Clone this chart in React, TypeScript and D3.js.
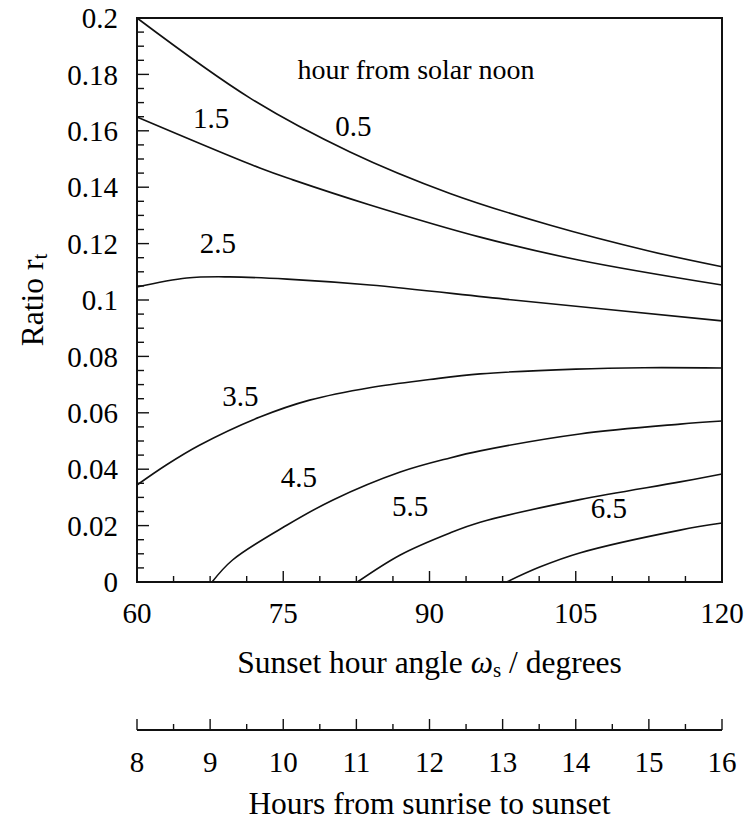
import React from 'react';
import * as d3 from 'd3';

// hour from solar noon -> curve points (sunset hour angle in degrees, ratio r_t)
const curveLabels = ['0.5', '1.5', '2.5', '3.5', '4.5', '5.5', '6.5'];

const omega05 = [60, 71.6, 81.85, 92.1, 102.4, 112.6, 120];
const ratio05 = [0.2, 0.1716, 0.1525, 0.1378, 0.1265, 0.1173, 0.1118];

const omega15 = [60, 72.6, 76, 83.9, 95.2, 105.4, 120];
const ratio15 = [0.1649, 0.1468, 0.1426, 0.1337, 0.1223, 0.1141, 0.1053];

const omega25 = [60, 65.1, 69.5, 75.4, 83.9, 98.6, 120];
const ratio25 = [0.1046, 0.1078, 0.1082, 0.1074, 0.1053, 0.1, 0.0926];

const omega35 = [60, 63, 66.4, 72.6, 77.7, 84, 90, 95.2, 105, 112, 120];
const ratio35 = [0.0344, 0.0415, 0.0485, 0.0585, 0.0645, 0.069, 0.0718, 0.0738, 0.0755, 0.076, 0.0759];

const omega45 = [67.7, 69.8, 75.4, 80.1, 87, 92.1, 95.2, 105.4, 115.7, 120];
const ratio45 = [0, 0.0078, 0.0202, 0.0291, 0.039, 0.044, 0.0465, 0.0525, 0.056, 0.0571];

const omega55 = [82.6, 87, 92.1, 95.2, 105.4, 115.7, 120];
const ratio55 = [0, 0.0096, 0.0174, 0.0212, 0.0292, 0.0355, 0.0383];

const omega65 = [97.9, 101.3, 105.4, 115.7, 120];
const ratio65 = [0, 0.0053, 0.0103, 0.0184, 0.0209];

const curveOmegas = [omega05, omega15, omega25, omega35, omega45, omega55, omega65];
const curveRatios = [ratio05, ratio15, ratio25, ratio35, ratio45, ratio55, ratio65];

// label anchor in data units (omega, ratio)
const labelOmega = [82.2, 67.6, 68.3, 70.6, 76.6, 88, 108.4];
const labelRatio = [0.158, 0.161, 0.1165, 0.0625, 0.0337, 0.0235, 0.0227];

const yTicks = [0, 0.02, 0.04, 0.06, 0.08, 0.1, 0.12, 0.14, 0.16, 0.18, 0.2];
const yTickLabels = ['0', '0.02', '0.04', '0.06', '0.08', '0.1', '0.12', '0.14', '0.16', '0.18', '0.2'];
const xTicks = [60, 75, 90, 105, 120];
const hourTicks = [8, 9, 10, 11, 12, 13, 14, 15, 16];

const FONT = "'Liberation Serif', 'Times New Roman', Times, 'DejaVu Serif', serif";

export default function App() {
  const width = 754;
  const height = 821;
  const left = 137, right = 722, top = 18, bottom = 582;

  const x = d3.scaleLinear().domain([60, 120]).range([left, right]);
  const y = d3.scaleLinear().domain([0, 0.2]).range([bottom, top]);
  const xh = d3.scaleLinear().domain([8, 16]).range([left, right]);

  const line = d3.line<[number, number]>()
    .x(d => x(d[0]))
    .y(d => y(d[1]))
    .curve(d3.curveCatmullRom.alpha(0.5));

  const yMinor = d3.range(0, 0.2001, 0.005);
  const xMinor = d3.range(60, 120.001, 3.75);
  const hMinor = d3.range(8, 16.001, 0.5);
  const hAxisY = 730;

  return (
    <svg width={width} height={height}
      style={{ position: 'absolute', left: 0, top: 0, background: '#fff', fontFamily: FONT }}>
      <rect x={0} y={0} width={width} height={height} fill="#fff" />

      {/* curves */}
      {curveOmegas.map((om, i) => (
        <path key={i} d={line(om.map((o, j) => [o, curveRatios[i][j]]) as [number, number][]) || ''}
          fill="none" stroke="#111" strokeWidth={1.6} />
      ))}

      {/* frame */}
      <rect x={left} y={top} width={right - left} height={bottom - top} fill="none" stroke="#111" strokeWidth={2} />

      {/* y ticks */}
      {yMinor.map((v, i) => {
        const major = i % 4 === 0;
        return <line key={'ym' + i} x1={left} x2={left + (major ? 12 : 7)} y1={y(v)} y2={y(v)} stroke="#111" strokeWidth={1.4} />;
      })}
      {yTicks.map((v, i) => (
        <text key={'yl' + i} x={118} y={y(v)} dy="0.35em" textAnchor="end" fontSize={29}>{yTickLabels[i]}</text>
      ))}

      {/* x ticks */}
      {xMinor.map((v, i) => {
        const major = i % 4 === 0;
        return <line key={'xm' + i} x1={x(v)} x2={x(v)} y1={bottom} y2={bottom - (major ? 11 : 6)} stroke="#111" strokeWidth={1.4} />;
      })}
      {xTicks.map(v => (
        <text key={'xl' + v} x={x(v)} y={623} textAnchor="middle" fontSize={29}>{v}</text>
      ))}

      {/* hours axis */}
      <line x1={left} x2={right} y1={hAxisY} y2={hAxisY} stroke="#111" strokeWidth={2} />
      {hMinor.map((v, i) => {
        const major = i % 2 === 0;
        return <line key={'hm' + i} x1={xh(v)} x2={xh(v)} y1={hAxisY} y2={hAxisY - (major ? 11 : 6)} stroke="#111" strokeWidth={1.4} />;
      })}
      {hourTicks.map(v => (
        <text key={'hl' + v} x={xh(v)} y={772} textAnchor="middle" fontSize={29}>{v}</text>
      ))}

      {/* curve labels */}
      <text x={416} y={79} textAnchor="middle" fontSize={28}>hour from solar noon</text>
      {curveLabels.map((t, i) => (
        <text key={'cl' + i} x={x(labelOmega[i])} y={y(labelRatio[i])} textAnchor="middle" fontSize={29}>{t}</text>
      ))}

      {/* axis titles */}
      <text x={(left + right) / 2} y={673} textAnchor="middle" fontSize={31.5}>
        Sunset hour angle <tspan fontStyle="italic">ω</tspan><tspan fontSize={21} dy={4}>s</tspan><tspan dy={-4}> / degrees</tspan>
      </text>
      <text x={(left + right) / 2} y={814} textAnchor="middle" fontSize={31.5}>Hours from sunrise to sunset</text>
      <text transform={`translate(43, ${(top + bottom) / 2}) rotate(-90)`} textAnchor="middle" fontSize={31.5}>
        Ratio r<tspan fontSize={21} dy={4}>t</tspan>
      </text>
    </svg>
  );
}
